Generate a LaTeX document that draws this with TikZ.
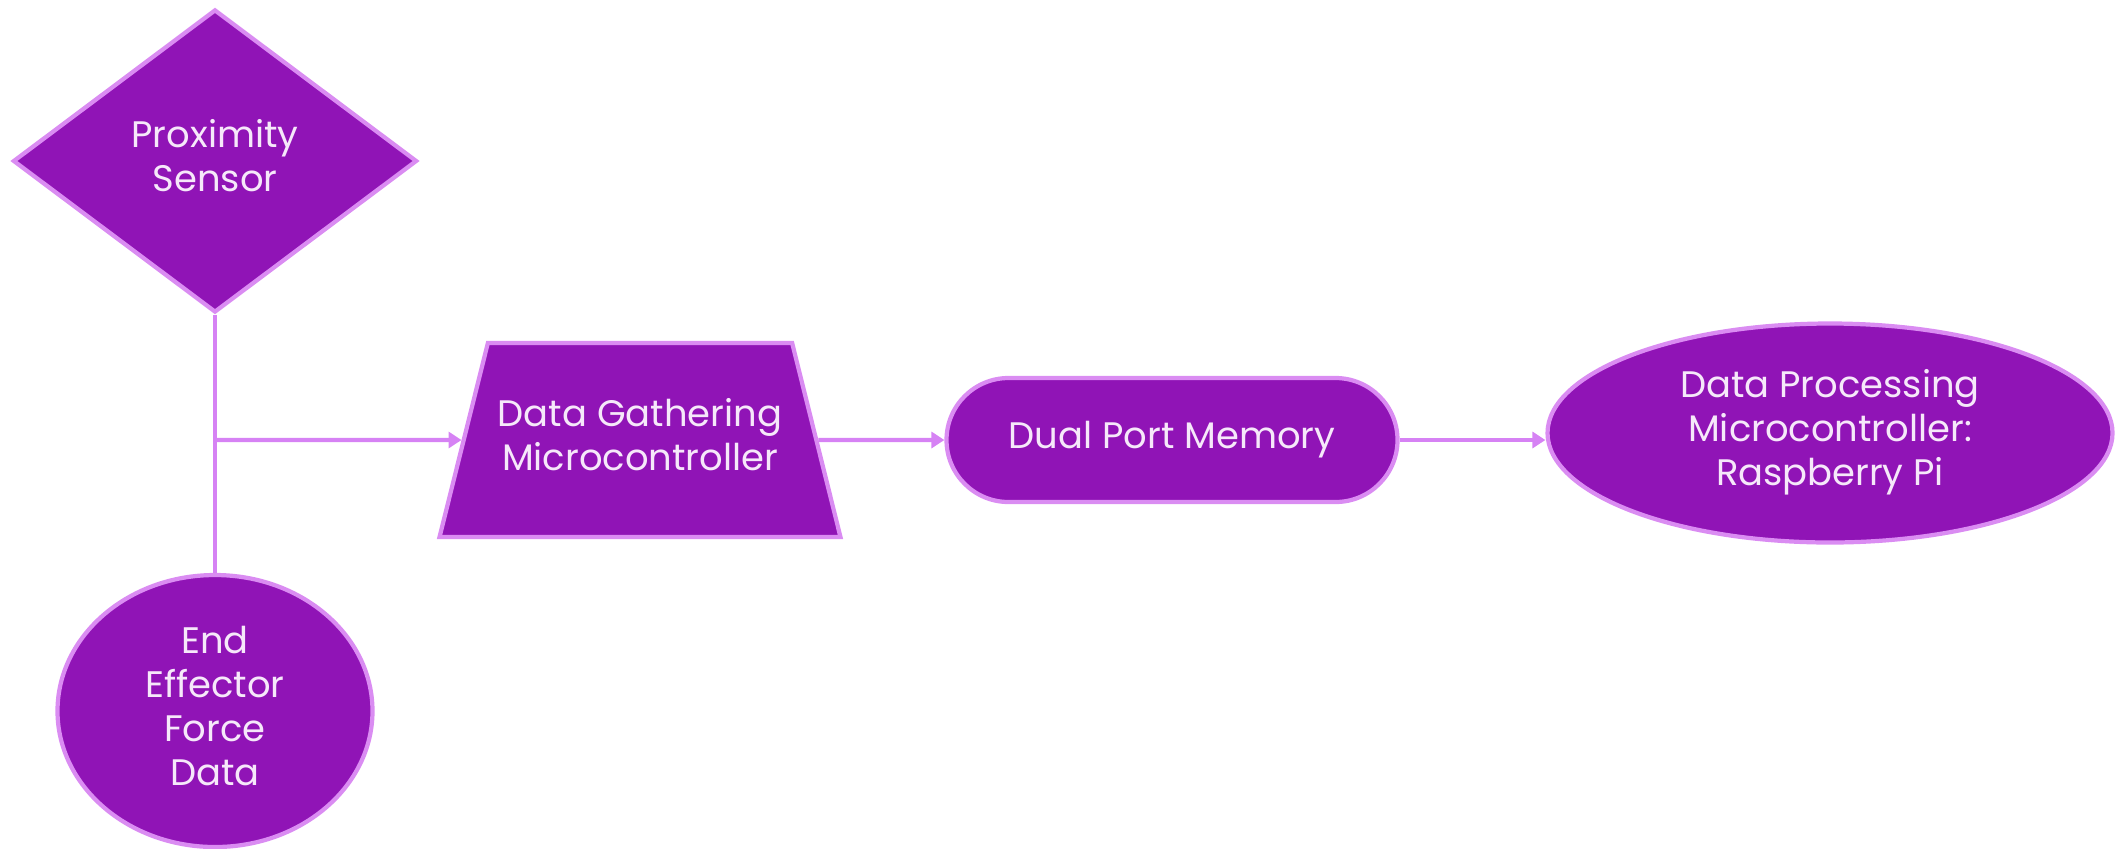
\documentclass[tikz,border=0pt]{standalone}
\usepackage{fontspec}
\setmainfont{Poppins}
\usepackage{tikz}
\usetikzlibrary{arrows.meta, positioning, calc, shapes.geometric, shapes.misc}

\definecolor{boxfill}{RGB}{144,20,182}
\definecolor{boxline}{RGB}{218,140,242}
\definecolor{boxtext}{RGB}{246,232,250}
\definecolor{linkline}{RGB}{214,130,244}

\begin{document}
\begin{tikzpicture}[
    block/.style={fill=boxfill, draw=boxline, line width=1.2pt, text=boxtext, inner sep=0pt,
        font=\fontsize{10.5}{12.5}\selectfont},
    link/.style={draw=linkline, line width=1.2pt},
    ->/.style={-{Triangle[length=0.13cm, width=0.16cm]}}
]
    \useasboundingbox (0, 0) rectangle (21.17, -8.48);

    % \node (n) at (0, 0) {};
    \node[block, diamond, aspect=1.33, minimum width=4.04cm, minimum height=3.03cm] (prox) at (2.15, -1.61) {\begin{tabular}{c}
        Proximity \\
        Sensor \\
        \end{tabular}};
    \node[block, ellipse, minimum width=3.15cm, minimum height=2.72cm] (end_effector) at ($(prox)+(0, -5.50)$) {\begin{tabular}{c}
        End \\
        Effector \\
        Force \\
        Data \\
        \end{tabular}};

    \node[block, trapezium, trapezium stretches=true, trapezium left angle=76, trapezium right angle=76,
        inner xsep=0.1cm, inner ysep=0.53cm, minimum width=3.94cm, minimum height=1.94cm] (gathering) at (6.40, -4.40) {\begin{tabular}{@{}c@{}}
        Data Gathering \\
        Microcontroller \\
        \end{tabular}};
    \node[block, rounded rectangle, minimum width=4.51cm, minimum height=1.24cm] (memory) at ($(gathering)+(5.32, 0)$) {Dual Port Memory};
    \node[block, ellipse, minimum width=5.65cm, minimum height=2.19cm] (processing) at ($(memory)+(6.58, .07)$) {\begin{tabular}{c}
        Data Processing \\
        Microcontroller: \\
        Raspberry Pi \\
        \end{tabular}};

    \coordinate (fork) at (prox.south |- gathering);
    \draw[link] (prox.south) -- (end_effector.north);
    \draw[link, ->] (fork) -- (gathering.west);
    \draw[link, ->] (gathering.east) -- (memory.west);
    \draw[link, ->] (memory.east) -- (memory.east -| processing.west);

    \end{tikzpicture}
\end{document}
